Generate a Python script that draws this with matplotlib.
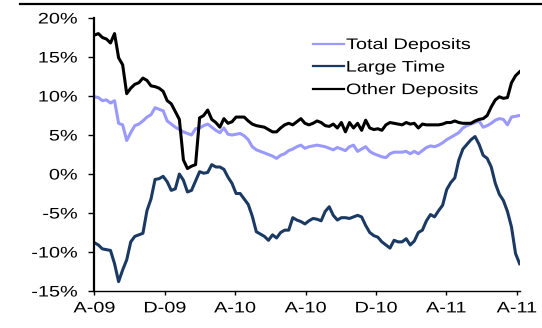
import matplotlib
matplotlib.use("Agg")
import matplotlib.pyplot as plt
import matplotlib.dates as mdates
import numpy as np
import pandas as pd
from matplotlib.lines import Line2D
from matplotlib.patheffects import AbstractPathEffect
from matplotlib.transforms import Affine2D
from matplotlib.ticker import FixedLocator, FixedFormatter

# Weekly year-over-year growth rates (%)
start_date = "2009-08-01"
n_weeks = 106

total_deposits = [
    9.9, 9.8, 9.4, 9.5, 9.1, 9.4, 6.5, 6.3, 4.3, 5.3,
    6.2, 6.4, 6.8, 7.3, 7.6, 8.5, 8.3, 8.1, 6.8, 6.4,
    6.0, 5.7, 5.4, 5.2, 5.0, 5.8, 5.9, 6.2, 6.4, 6.0,
    5.6, 5.3, 5.9, 5.1, 5.0, 5.1, 5.2, 4.9, 4.4, 3.5,
    3.1, 2.9, 2.7, 2.5, 2.3, 2.0, 2.4, 2.6, 3.0, 3.2,
    3.5, 3.7, 3.3, 3.5, 3.6, 3.7, 3.6, 3.5, 3.3, 3.1,
    3.4, 3.2, 3.0, 3.5, 3.7, 2.9, 3.2, 3.5, 2.9, 2.6,
    2.4, 2.2, 2.1, 2.6, 2.8, 2.8, 2.8, 2.9, 2.6, 2.9,
    2.6, 3.0, 3.4, 3.6, 3.5, 3.7, 4.0, 4.4, 4.7, 5.0,
    5.3, 5.9, 6.2, 6.4, 6.6, 6.8, 6.0, 6.2, 6.5, 6.9,
    7.1, 7.0, 6.3, 7.3, 7.4, 7.5,
]

large_time = [
    -8.8, -9.1, -9.6, -9.7, -9.8, -11.5, -13.8, -12.3, -11.0, -8.7,
    -8.0, -7.8, -7.6, -4.7, -3.2, -0.7, -0.6, -0.3, -1.0, -2.1,
    -1.9, 0.0, -0.8, -2.3, -2.1, -0.9, 0.3, 0.1, 0.2, 1.2,
    0.9, 0.9, 0.6, -0.4, -1.2, -2.5, -2.5, -3.2, -3.9, -5.4,
    -7.4, -7.7, -8.0, -8.5, -7.8, -8.2, -7.5, -7.2, -7.2, -5.6,
    -5.9, -6.1, -6.4, -6.0, -5.7, -5.8, -6.0, -4.8, -4.2, -5.3,
    -5.9, -5.6, -5.6, -5.7, -5.5, -5.3, -5.5, -6.6, -7.5, -7.9,
    -8.1, -8.7, -9.1, -9.5, -8.5, -8.7, -8.7, -8.3, -9.1, -8.6,
    -7.5, -7.2, -6.0, -5.2, -5.5, -4.7, -4.0, -2.0, -1.1, -0.5,
    1.8, 3.2, 3.8, 4.4, 4.8, 3.8, 2.4, 2.0, 0.9, -1.2,
    -2.6, -3.4, -4.8, -6.8, -10.2, -11.5,
]

other_deposits = [
    17.8, 18.0, 17.5, 17.3, 16.8, 18.0, 14.9, 14.0, 10.3, 11.0,
    11.5, 11.7, 12.3, 12.0, 11.3, 11.2, 11.0, 10.6, 9.4, 9.0,
    8.0, 7.0, 1.8, 0.7, 1.0, 1.2, 7.2, 7.5, 8.2, 7.0,
    6.6, 6.0, 7.1, 6.5, 6.7, 7.3, 7.3, 7.3, 6.8, 6.4,
    6.2, 6.1, 6.0, 5.7, 5.4, 5.4, 5.9, 6.3, 6.5, 6.3,
    6.7, 7.1, 6.5, 6.3, 6.5, 6.8, 6.6, 6.2, 6.1, 6.4,
    5.9, 6.6, 5.4, 6.6, 5.9, 6.5, 5.6, 6.9, 5.9, 5.7,
    5.8, 5.6, 6.3, 6.6, 6.5, 6.4, 6.3, 6.6, 6.4, 6.5,
    5.9, 6.4, 6.3, 6.3, 6.3, 6.3, 6.4, 6.6, 6.6, 6.8,
    6.6, 6.5, 6.5, 6.5, 6.8, 7.0, 7.1, 7.5, 8.6, 9.5,
    9.9, 9.7, 9.8, 11.7, 12.6, 13.1,
]

series_names = ["Total Deposits", "Large Time", "Other Deposits"]
series_colors = ["#9999ff", "#1b3a63", "#000000"]

tick_dates = ["2009-08-01", "2009-12-01", "2010-04-01", "2010-08-01",
              "2010-12-01", "2011-04-01", "2011-08-01"]
tick_labels = ["A-09", "D-09", "A-10", "A-10", "D-10", "A-11", "A-11"]

y_ticks = [-15, -10, -5, 0, 5, 10, 15, 20]
y_labels = [f"{v}%" for v in y_ticks]


class WideText(AbstractPathEffect):
    """Draw text glyphs stretched horizontally about an anchor edge."""

    def __init__(self, sx=1.3, anchor="center"):
        super().__init__()
        self.sx = sx
        self.anchor = anchor

    def draw_path(self, renderer, gc, tpath, affine, rgbFace=None):
        ext = tpath.get_extents(affine)
        if self.anchor == "right":
            x0 = ext.x1
        elif self.anchor == "left":
            x0 = ext.x0
        else:
            x0 = 0.5 * (ext.x0 + ext.x1)
        tr = affine + Affine2D().translate(-x0, 0).scale(self.sx, 1.0).translate(x0, 0)
        renderer.draw_path(gc, tpath, tr, rgbFace)


plt.rcParams["font.family"] = ["Liberation Sans", "DejaVu Sans"]
FS = 11

dates = pd.date_range(start_date, periods=n_weeks, freq="7D")

W, H = 542, 328
fig = plt.figure(figsize=(W / 100, H / 100), dpi=100)
ax = fig.add_axes([94.3 / W, 1 - 291 / H, (519.6 - 94.3) / W, (291 - 18) / H])

for vals, name, col in zip([total_deposits, large_time, other_deposits],
                           series_names, series_colors):
    ax.plot(dates, vals, color=col, lw=2.2, label=name, solid_joinstyle="round")

ax.set_xlim(dates[0], dates[-1])
ax.set_ylim(-15, 20)

ax.xaxis.set_major_locator(FixedLocator(mdates.date2num(pd.to_datetime(tick_dates))))
ax.xaxis.set_major_formatter(FixedFormatter(tick_labels))
ax.yaxis.set_major_locator(FixedLocator(y_ticks))
ax.yaxis.set_major_formatter(FixedFormatter(y_labels))

for side in ("top", "right"):
    ax.spines[side].set_visible(False)
ax.spines["left"].set_linewidth(1.6)
ax.spines["bottom"].set_linewidth(1.0)

ax.tick_params(axis="y", direction="out", length=4.3, width=1.0, pad=7.9,
               labelsize=FS, colors="black")
ax.tick_params(axis="x", direction="out", length=3.0, width=1.0, pad=4.5,
               labelsize=FS, colors="black")

for lab in ax.get_yticklabels():
    lab.set_path_effects([WideText(1.3, "right")])
for lab in ax.get_xticklabels():
    lab.set_path_effects([WideText(1.3, "center")])

leg = ax.legend(loc="upper left", bbox_to_anchor=(313 / W, 1 - 38 / H),
                bbox_transform=fig.transFigure, frameon=False, fontsize=FS,
                borderpad=0, borderaxespad=0, handlelength=2.05,
                handletextpad=0.12, labelspacing=0.56)
for txt in leg.get_texts():
    txt.set_path_effects([WideText(1.3, "left")])
for h in leg.get_lines():
    h.set_linewidth(1.6)

# rule across the top of the page
fig.add_artist(Line2D([20 / W, 1.0], [1 - 3.7 / H, 1 - 3.7 / H],
                      transform=fig.transFigure, color="black", lw=1.6))

fig.savefig("out.png", dpi=100)
